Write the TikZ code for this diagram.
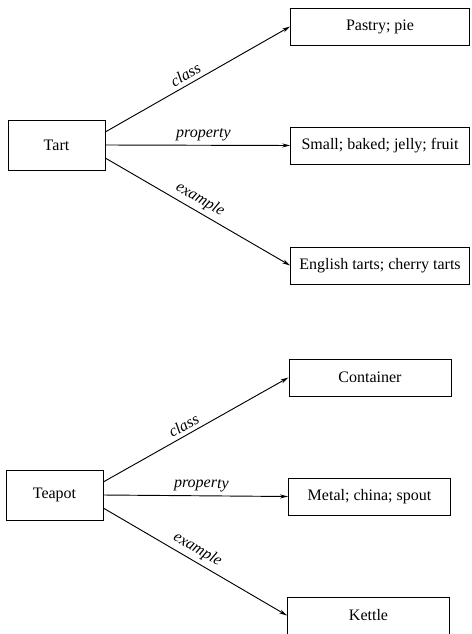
\documentclass[tikz,border=0pt]{standalone}
\usepackage{fontspec}
\setmainfont{Liberation Serif}
\usetikzlibrary{arrows.meta}

\begin{document}
\begin{tikzpicture}[
        x=0.75pt, y=-0.75pt,
        ->, >={Stealth[length=6pt,width=3pt]}, line width=0.7pt,
        concept/.style={draw, rectangle, align=center, inner sep=0pt,
                minimum width=72.75pt, minimum height=37.5pt},
        slot/.style={draw, rectangle, align=center, inner sep=0pt,
                minimum width=134pt, minimum height=27.75pt},
        filler/.style={draw, rectangle, align=center, inner sep=0pt,
                minimum width=121.5pt, minimum height=27.75pt},
        link/.style={font=\fontsize{12}{14}\selectfont\itshape, sloped, above, inner sep=3pt},
        every node/.style={font=\fontsize{12}{14}\selectfont}
    ]
    \useasboundingbox (0,0) rectangle (471,634);

    % tart frame
    \node[concept] (tart) at (56.5,145) {Tart};
    \node[slot] (pastry) at (380,26.5) {Pastry; pie};
    \node[slot] (small) at (380,145.5) {Small; baked; jelly; fruit};
    \node[slot] (english) at (380,265.5) {English tarts; cherry tarts};

    \draw (tart.15) -- node[link, pos=0.46] {class} (pastry.west);
    \draw (tart.east) -- node[link, pos=0.53] {property} (small.west);
    \draw (tart.-15) -- node[link, pos=0.48] {example} (english.west);

    % teapot frame
    \node[concept] (teapot) at (54.5,495) {Teapot};
    \node[filler] (container) at (370,377.5) {Container};
    \node[filler] (metal) at (369.5,496.5) {Metal; china; spout};
    \node[filler] (kettle) at (368.5,615.5) {Kettle};

    \draw (teapot.15) -- node[link, pos=0.46] {class} (container.west);
    \draw (teapot.east) -- node[link, pos=0.53] {property} (metal.west);
    \draw (teapot.-15) -- node[link, pos=0.48] {example} (kettle.west);
\end{tikzpicture}
\end{document}
